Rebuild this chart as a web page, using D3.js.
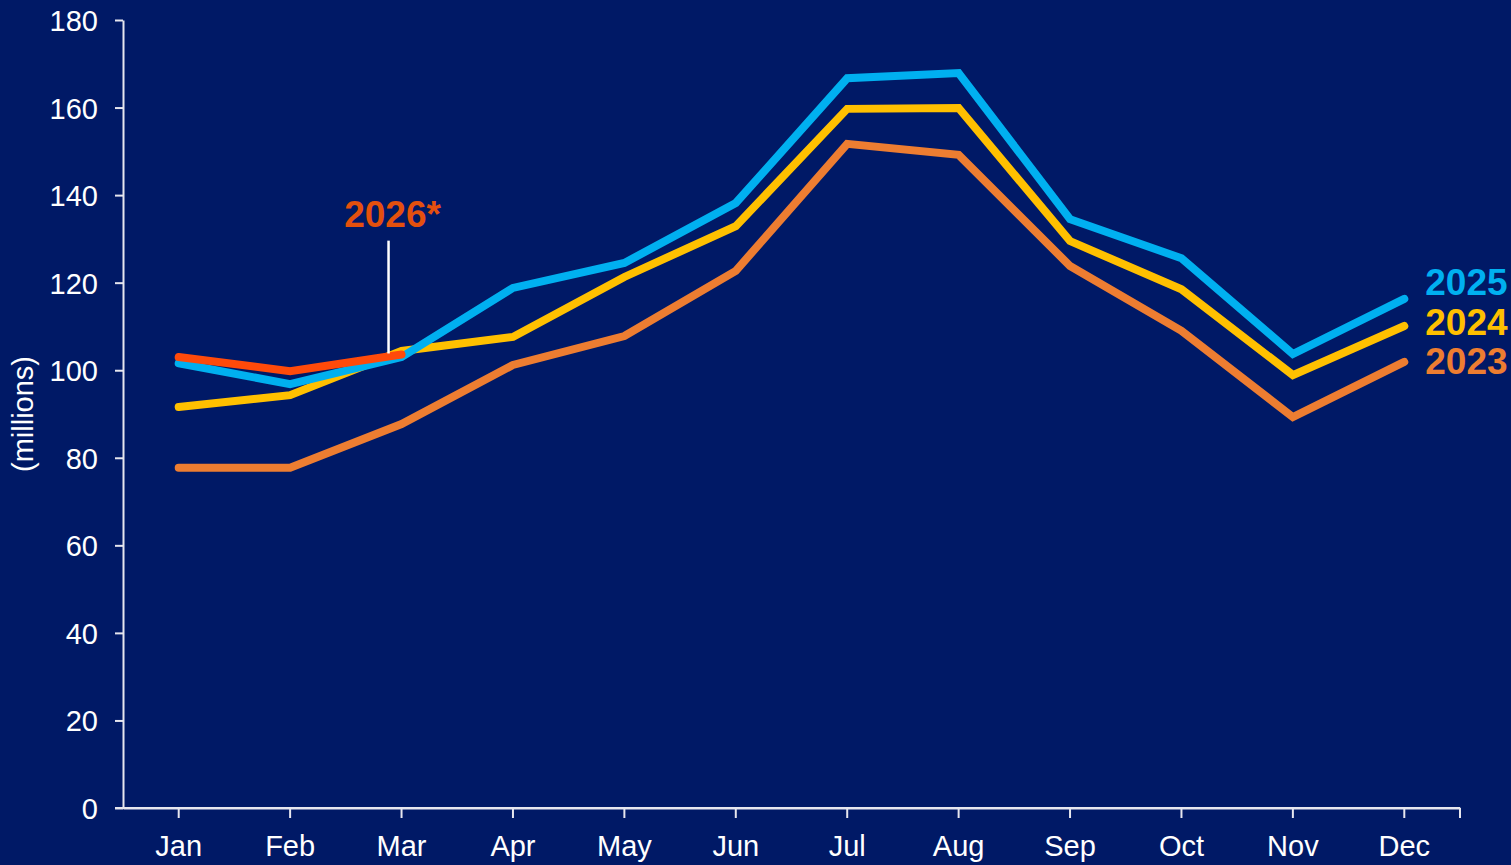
<!DOCTYPE html>
<html>
<head>
<meta charset="utf-8">
<script src="https://cdn.jsdelivr.net/npm/d3@7"></script>
<style>
  html, body { margin: 0; padding: 0; background: #001966; }
  svg { display: block; font-family: "Liberation Sans", Arial, sans-serif; }
</style>
</head>
<body>
<div id="chart"></div>
<script>
// monthly values, millions
let months = ["Jan", "Feb", "Mar", "Apr", "May", "Jun", "Jul", "Aug", "Sep", "Oct", "Nov", "Dec"];
let yTicks = [0, 20, 40, 60, 80, 100, 120, 140, 160, 180];

let values2023 = [77.7, 77.7, 87.7, 101.2, 107.8, 122.7, 151.7, 149.2, 123.8, 109.0, 89.3, 101.9];
let values2024 = [91.6, 94.3, 104.4, 107.6, 121.3, 132.9, 159.7, 159.9, 129.5, 118.5, 98.9, 110.1];
let values2025 = [101.6, 96.8, 103.0, 118.8, 124.5, 138.2, 166.7, 167.9, 134.5, 125.6, 103.7, 116.3];
let values2026 = [103.0, 99.8, 103.6];

let series = [
    {name: "2023", values: values2023, color: "#ED7D31", labelColor: "#ED7D31"},
    {name: "2024", values: values2024, color: "#FFC000", labelColor: "#FFC000"},
    {name: "2025", values: values2025, color: "#00B0F0", labelColor: "#00B0F0"},
    {name: "2026*", values: values2026, color: "#FF4A0A", labelColor: "#E4500E"}
];

let width = 1511, height = 865;
let margin = {top: 20, right: 51, bottom: 57, left: 123};

let svg = d3.select("#chart").append("svg")
    .attr("width", width)
    .attr("height", height);

svg.append("rect")
    .attr("width", width)
    .attr("height", height)
    .attr("fill", "#001966");

let x = d3.scaleBand()
    .domain(months)
    .range([margin.left, width - margin.right]);

let y = d3.scaleLinear()
    .domain([0, 180])
    .range([height - margin.bottom, margin.top]);

let axisColor = "#E6E6EE";

// y axis
let yAxis = svg.append("g")
    .attr("transform", `translate(${margin.left},0)`)
    .call(d3.axisLeft(y).tickValues(yTicks).tickSize(8).tickSizeOuter(0).tickPadding(17));
yAxis.select(".domain").attr("stroke", axisColor).attr("stroke-width", 2);
yAxis.selectAll(".tick line").attr("stroke", axisColor).attr("stroke-width", 2);
yAxis.selectAll(".tick text")
    .attr("fill", "#FFFFFF")
    .style("font-size", "29px")
    .attr("dy", "0.36em");

// x axis: ticks at month centres plus a closing tick at the end
let xAxis = svg.append("g")
    .attr("transform", `translate(0,${height - margin.bottom})`)
    .call(d3.axisBottom(x).tickSize(10).tickSizeOuter(0).tickPadding(13));
xAxis.select(".domain").attr("stroke", axisColor).attr("stroke-width", 2);
xAxis.selectAll(".tick line").attr("stroke", axisColor).attr("stroke-width", 2);
xAxis.selectAll(".tick text")
    .attr("fill", "#FFFFFF")
    .style("font-size", "29px")
    .attr("dy", "0.85em");
xAxis.append("line")
    .attr("x1", margin.left - 8).attr("x2", width - margin.right)
    .attr("stroke", axisColor).attr("stroke-width", 2);
xAxis.append("line")
    .attr("x1", width - margin.right).attr("x2", width - margin.right)
    .attr("y1", 0).attr("y2", 10)
    .attr("stroke", axisColor).attr("stroke-width", 2);

// axis title
svg.append("text")
    .attr("transform", `translate(33,${y(90)}) rotate(-90)`)
    .attr("text-anchor", "middle")
    .attr("fill", "#FFFFFF")
    .style("font-size", "29px")
    .text("(millions)");

let line = d3.line()
    .x((d, i) => x(months[i]) + x.bandwidth() / 2)
    .y(d => y(d));

svg.append("g").selectAll("path")
    .data(series)
    .join("path")
    .attr("d", d => line(d.values))
    .attr("fill", "none")
    .attr("stroke", d => d.color)
    .attr("stroke-width", 8)
    .attr("stroke-linejoin", "miter")
    .attr("stroke-linecap", "round");

// end labels for full years
let labelY = {"2025": 282, "2024": 322, "2023": 361};
svg.append("g").selectAll("text")
    .data(series.filter(d => d.values.length === 12))
    .join("text")
    .attr("x", x("Dec") + x.bandwidth() / 2 + 21)
    .attr("y", d => labelY[d.name])
    .attr("dy", "0.36em")
    .attr("fill", d => d.labelColor)
    .style("font-size", "37px")
    .style("font-weight", "bold")
    .text(d => d.name);

// 2026 callout
let s26 = series[3];
let calloutX = x("Mar") + x.bandwidth() / 2 - 13;
svg.append("line")
    .attr("x1", calloutX).attr("x2", calloutX)
    .attr("y1", y(129.6)).attr("y2", y(s26.values[2]) - 1)
    .attr("stroke", "#FFFFFF")
    .attr("stroke-width", 2.5);
svg.append("text")
    .attr("x", calloutX + 4)
    .attr("y", 227)
    .attr("text-anchor", "middle")
    .attr("fill", s26.labelColor)
    .style("font-size", "37px")
    .style("font-weight", "bold")
    .text(s26.name);
</script>
</body>
</html>
